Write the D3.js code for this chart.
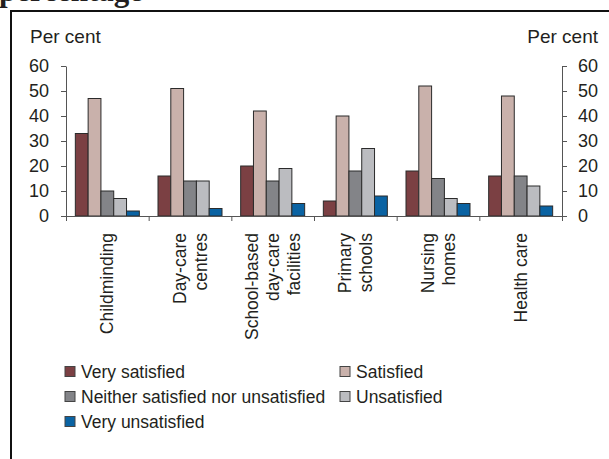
<!DOCTYPE html>
<html>
<head>
<meta charset="utf-8">
<script src="https://cdn.jsdelivr.net/npm/d3@7"></script>
<style>
  html, body { margin: 0; padding: 0; background: #fff; }
  svg { display: block; }
  text { font-family: "Liberation Sans", Arial, sans-serif; fill: #231f20; }
</style>
</head>
<body>
<svg id="chart" width="609" height="459"></svg>
<script>
// Satisfaction with care services, per cent of respondents
const categories = [
  ["Childminding"],
  ["Day-care", "centres"],
  ["School-based", "day-care", "facilities"],
  ["Primary", "schools"],
  ["Nursing", "homes"],
  ["Health care"]
];
const seriesNames = [
  "Very satisfied",
  "Satisfied",
  "Neither satisfied nor unsatisfied",
  "Unsatisfied",
  "Very unsatisfied"
];
const verySatisfied    = [33, 16, 20,  6, 18, 16];
const satisfied        = [47, 51, 42, 40, 52, 48];
const neither          = [10, 14, 14, 18, 15, 16];
const unsatisfied      = [ 7, 14, 19, 27,  7, 12];
const veryUnsatisfied  = [ 2,  3,  5,  8,  5,  4];
const yTicks = [0, 10, 20, 30, 40, 50, 60];
const colors = ["#7b4043", "#c9b1ab", "#838488", "#bbbcc0", "#0a63a3"];

const series = [verySatisfied, satisfied, neither, unsatisfied, veryUnsatisfied];
const catKeys = categories.map(c => c.join(" "));

const svg = d3.select("#chart");

// Heading running above the boxed figure (cut by the page edge)
svg.append("text")
  .attr("x", -1).attr("y", 1)
  .style("font-family", "'Liberation Serif', 'Times New Roman', serif")
  .style("font-size", "31px")
  .style("font-weight", "bold")
  .text("percentage");

// Box around the figure
svg.append("path")
  .attr("d", "M11,470 V11 H620")
  .attr("fill", "none")
  .attr("stroke", "#111")
  .attr("stroke-width", 2);

const plotLeft = 66, plotRight = 562, plotTop = 66, plotBottom = 216;

const y = d3.scaleLinear().domain([0, 60]).range([plotBottom, plotTop]);
const x0 = d3.scaleBand().domain(catKeys).range([plotLeft, plotRight])
  .paddingInner(0.2258).paddingOuter(0.1129);
const x1 = d3.scaleBand().domain(d3.range(series.length)).range([0, x0.bandwidth()]);
const xEdges = d3.scaleLinear().domain([0, categories.length]).range([plotLeft, plotRight]);

// Bars
const groups = svg.append("g").selectAll("g")
  .data(catKeys)
  .join("g")
  .attr("transform", d => `translate(${x0(d)},0)`);

groups.selectAll("rect")
  .data((d, i) => series.map((s, k) => ({ k, v: s[i] })))
  .join("rect")
  .attr("x", d => x1(d.k))
  .attr("width", x1.bandwidth())
  .attr("y", d => y(d.v))
  .attr("height", d => y(0) - y(d.v))
  .attr("fill", d => colors[d.k])
  .attr("stroke", "#2b2b2b")
  .attr("stroke-width", 1);

// Axes
const axisColor = "#555";
const fontSize = "18px";

const gL = svg.append("g").attr("transform", `translate(${plotLeft},0)`)
  .call(d3.axisLeft(y).tickValues(yTicks).tickSize(5).tickPadding(12).tickSizeOuter(0));
const gR = svg.append("g").attr("transform", `translate(${plotRight},0)`)
  .call(d3.axisRight(y).tickValues(yTicks).tickSize(5).tickPadding(11).tickSizeOuter(0));
const gB = svg.append("g").attr("transform", `translate(0,${plotBottom})`)
  .call(d3.axisBottom(xEdges).tickValues(d3.range(categories.length + 1))
    .tickSize(5).tickSizeOuter(0).tickFormat(""));

[gL, gR, gB].forEach(g => {
  g.select(".domain").attr("stroke", axisColor);
  g.selectAll(".tick line").attr("stroke", axisColor);
  g.selectAll(".tick text")
    .style("font-family", "'Liberation Sans', Arial, sans-serif")
    .style("font-size", fontSize)
    .attr("fill", "#231f20");
});

// Unit labels
svg.append("text").attr("x", 30).attr("y", 43)
  .style("font-size", "19px").text("Per cent");
svg.append("text").attr("x", 598).attr("y", 43)
  .attr("text-anchor", "end")
  .style("font-size", "19px").text("Per cent");

// Category labels, rotated, one text per line
const lineStep = 21;
categories.forEach((lines, i) => {
  const cx = x0(catKeys[i]) + x0.bandwidth() / 2;
  const n = lines.length;
  lines.forEach((line, j) => {
    const lx = cx + (j - (n - 1) / 2) * lineStep + 6;
    svg.append("text")
      .attr("transform", `translate(${lx},233) rotate(-90)`)
      .attr("text-anchor", "end")
      .style("font-size", "17.5px")
      .text(line);
  });
});

// Legend
const legendPos = [
  [65, 371.5], [340, 371.5],
  [65, 396.5], [340, 396.5],
  [65, 421.5]
];
const legend = svg.append("g");
seriesNames.forEach((name, k) => {
  const [lx, ly] = legendPos[k];
  legend.append("rect")
    .attr("x", lx).attr("y", ly - 5)
    .attr("width", 10).attr("height", 10)
    .attr("fill", colors[k])
    .attr("stroke", "#444").attr("stroke-width", 1);
  legend.append("text")
    .attr("x", lx + 16).attr("y", ly + 6)
    .style("font-size", "17.5px")
    .text(name);
});
</script>
</body>
</html>
